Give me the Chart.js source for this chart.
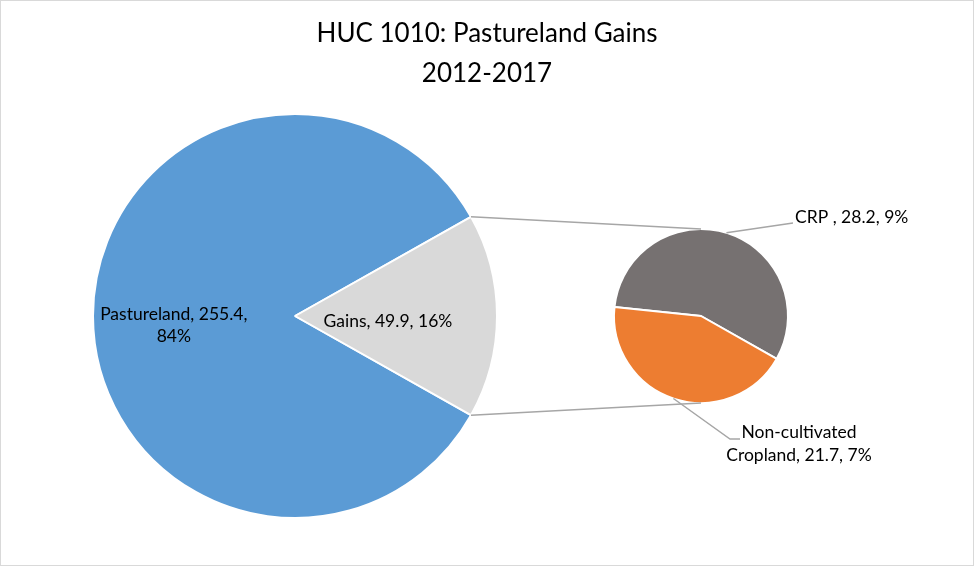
<!DOCTYPE html>
<html>
<head>
<meta charset="utf-8">
<title>HUC 1010: Pastureland Gains</title>
<script src="https://cdn.jsdelivr.net/npm/chart.js@4"></script>
<style>
  html, body { margin: 0; padding: 0; background: #fff; }
  #wrap { position: relative; width: 974px; height: 566px; }
  #wrap canvas { position: absolute; left: 0; top: 0; }
  #frame { position: absolute; left: 0; top: 0; width: 974px; height: 566px; box-sizing: border-box; border: 1px solid #d9d9d9; pointer-events: none; }
</style>
</head>
<body>
<div id="wrap">
  <canvas id="mainPie" width="974" height="566"></canvas>
  <canvas id="subPie" width="974" height="566"></canvas>
  <div id="frame"></div>
</div>
<script>
/* HUC 1010 pasture gains — pie of pie */

const TITLE_LINES = ['HUC 1010: Pastureland Gains', '2012-2017'];

const mainLabels = ['Pastureland', 'Gains'];
const mainValues = [255.4, 49.9];
const mainColors = ['#5b9bd5', '#d9d9d9'];

const subLabels = ['CRP ', 'Non-cultivated Cropland'];
const subValues = [28.2, 21.7];
const subColors = ['#767171', '#ed7d31'];

const FONT = "Lato, 'Open Sans', sans-serif";
const LINE_COLOR = '#a6a6a6';

const total = mainValues.reduce((a, b) => a + b, 0);
const pct = v => Math.round(v / total * 100) + '%';

// gains slice centred on 3 o'clock
const mainRotation = 90 + (mainValues[1] / total * 360) / 2;

Chart.defaults.animation = false;
Chart.defaults.font.family = FONT;

// ── Main pie ─────────────────────────────────────────────────

const mainChart = new Chart(document.getElementById('mainPie'), {
  type: 'pie',
  data: {
    labels: mainLabels,
    datasets: [{
      data: mainValues,
      backgroundColor: mainColors,
      borderColor: '#ffffff',
      borderWidth: 2,
      hoverOffset: 0
    }]
  },
  options: {
    responsive: false,
    rotation: mainRotation,
    layout: { padding: { left: 92, top: 113, right: 476, bottom: 47 } },
    plugins: { legend: { display: false }, tooltip: { enabled: false } },
    events: []
  },
  plugins: [{
    afterDraw(chart) {
      const ctx = chart.ctx;
      const arc = chart.getDatasetMeta(0).data[0];
      const cx = arc.x, cy = arc.y, r = arc.outerRadius;
      ctx.save();
      ctx.fillStyle = '#000';
      ctx.textAlign = 'center';
      ctx.textBaseline = 'alphabetic';

      ctx.font = '26px ' + FONT;
      ctx.fillText(TITLE_LINES[0], 487, 42);
      ctx.fillText(TITLE_LINES[1], 487, 82);

      ctx.font = '17.5px ' + FONT;
      ctx.fillText(mainLabels[0] + ', ' + mainValues[0] + ',', cx - 0.6 * r, cy + 4);
      ctx.fillText(pct(mainValues[0]), cx - 0.6 * r, cy + 26);
      ctx.fillText(mainLabels[1] + ', ' + mainValues[1] + ', ' + pct(mainValues[1]), cx + 0.46 * r, cy + 11);
      ctx.restore();
    }
  }]
});

// ── Secondary pie ────────────────────────────────────────────

new Chart(document.getElementById('subPie'), {
  type: 'pie',
  data: {
    labels: subLabels,
    datasets: [{
      data: subValues,
      backgroundColor: subColors,
      borderColor: '#ffffff',
      borderWidth: 2,
      hoverOffset: 0
    }]
  },
  options: {
    responsive: false,
    rotation: 276,
    layout: { padding: { left: 613, top: 228, right: 185, bottom: 162 } },
    plugins: { legend: { display: false }, tooltip: { enabled: false } },
    events: []
  },
  plugins: [{
    afterDraw(chart) {
      const ctx = chart.ctx;
      const sub = chart.getDatasetMeta(0).data[0];
      const sx = sub.x, sy = sub.y, sr = sub.outerRadius;
      const gains = mainChart.getDatasetMeta(0).data[1];
      const mx = gains.x, my = gains.y, mr = gains.outerRadius;

      ctx.save();
      ctx.strokeStyle = LINE_COLOR;
      ctx.lineWidth = 1.5;

      // connectors from the gains slice to the secondary pie
      ctx.beginPath();
      ctx.moveTo(mx + mr * Math.cos(gains.startAngle), my + mr * Math.sin(gains.startAngle));
      ctx.lineTo(sx, sy - sr);
      ctx.moveTo(mx + mr * Math.cos(gains.endAngle), my + mr * Math.sin(gains.endAngle));
      ctx.lineTo(sx, sy + sr);
      ctx.stroke();

      // leader lines
      const a1 = -73 * Math.PI / 180, a2 = 108.5 * Math.PI / 180;
      ctx.beginPath();
      ctx.moveTo(sx + sr * Math.cos(a1), sy + sr * Math.sin(a1));
      ctx.lineTo(sx + 92, sy - 93);
      ctx.moveTo(sx + sr * Math.cos(a2), sy + sr * Math.sin(a2));
      ctx.lineTo(sx + 29, sy + 123);
      ctx.lineTo(sx + 39, sy + 123);
      ctx.stroke();

      ctx.fillStyle = '#000';
      ctx.font = '17.5px ' + FONT;
      ctx.textBaseline = 'alphabetic';
      ctx.textAlign = 'left';
      ctx.fillText(subLabels[0] + ', ' + subValues[0] + ', ' + pct(subValues[0]), sx + 94, sy - 93);
      ctx.textAlign = 'center';
      ctx.fillText('Non-cultivated', sx + 98, sy + 122);
      ctx.fillText('Cropland, ' + subValues[1] + ', ' + pct(subValues[1]), sx + 98, sy + 145);
      ctx.restore();
    }
  }]
});
</script>
</body>
</html>
